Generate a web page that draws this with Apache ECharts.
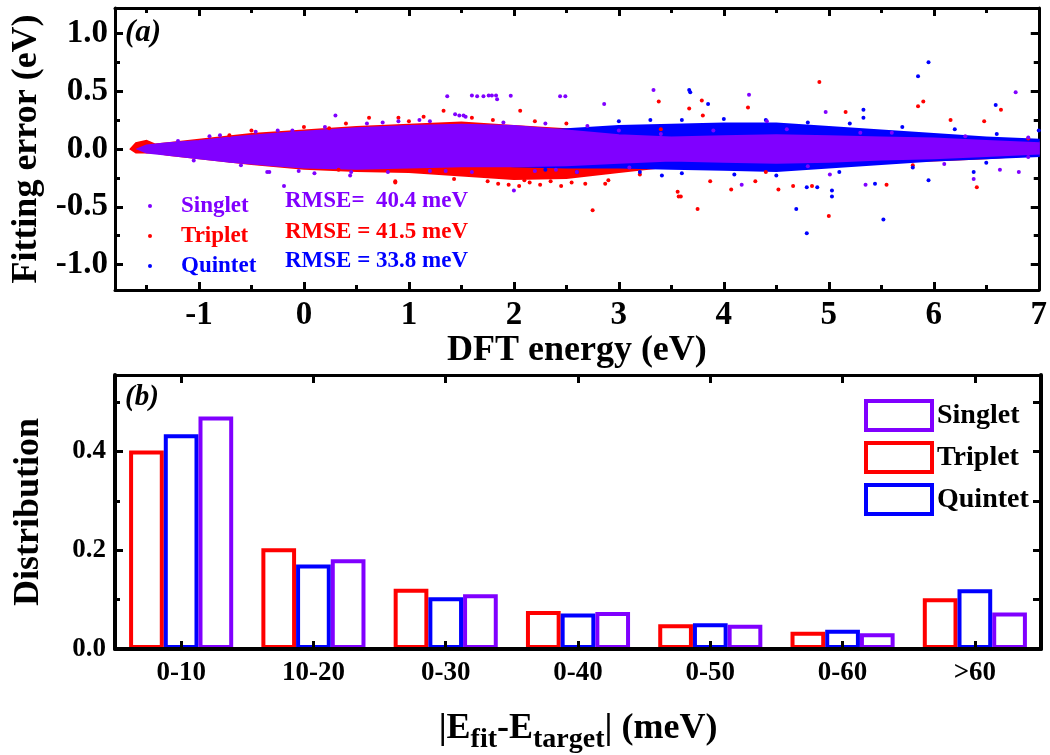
<!DOCTYPE html>
<html>
<head>
<meta charset="utf-8">
<script src="https://cdn.jsdelivr.net/npm/echarts@6/dist/echarts.min.js"></script>
<style>
  html, body { margin: 0; padding: 0; background: #ffffff; }
  #chart { width: 1050px; height: 755px; }
</style>
</head>
<body>
<div id="chart"></div>
<script>
// ---------- Panel (a): fitting error vs DFT energy ----------
// Dense cloud of each spin state, given as upper/lower envelopes (eV)
const tripletBandX = [-1.65, -1.6, -1.5, -1.42, -1.3, -1.0, -0.5, 0, 0.5, 1, 1.5, 2, 2.5, 3, 3.5, 4, 4.5, 5, 5.5, 6, 6.5, 7];
const tripletUpper = [0.0, 0.05, 0.07, 0.04, 0.05, 0.08, 0.13, 0.16, 0.19, 0.21, 0.23, 0.2, 0.17, 0.14, 0.12, 0.12, 0.12, 0.12, 0.11, 0.1, 0.08, 0.06];
const tripletLower = [0.0, -0.03, -0.03, -0.03, -0.05, -0.08, -0.13, -0.17, -0.19, -0.2, -0.23, -0.26, -0.25, -0.2, -0.15, -0.15, -0.14, -0.12, -0.11, -0.1, -0.08, -0.05];

const quintetBandX = [1.0, 1.5, 2, 2.5, 3, 3.5, 4, 4.5, 5, 5.5, 6, 6.5, 7];
const quintetUpper = [0.08, 0.12, 0.15, 0.17, 0.2, 0.21, 0.22, 0.22, 0.19, 0.16, 0.13, 0.1, 0.08];
const quintetLower = [-0.08, -0.12, -0.15, -0.16, -0.16, -0.17, -0.18, -0.19, -0.16, -0.13, -0.1, -0.08, -0.06];

const singletBandX = [-1.58, -1.5, -1.3, -1.0, -0.7, -0.3, 0, 0.5, 1, 1.5, 2, 2.5, 3, 3.5, 4, 4.5, 5, 5.5, 6, 6.5, 7];
const singletUpper = [0.0, 0.03, 0.05, 0.07, 0.10, 0.13, 0.15, 0.18, 0.2, 0.21, 0.2, 0.16, 0.12, 0.1, 0.11, 0.12, 0.11, 0.1, 0.09, 0.07, 0.05];
const singletLower = [0.0, -0.03, -0.05, -0.08, -0.11, -0.14, -0.16, -0.17, -0.16, -0.15, -0.15, -0.14, -0.12, -0.1, -0.11, -0.12, -0.11, -0.09, -0.08, -0.06, -0.04];

// Individual scattered points [DFT energy, error] (eV)
const singletPoints = [
  [1.365, 0.457], [1.60, 0.463], [1.65, 0.457], [1.71, 0.457], [1.76, 0.463], [1.79, 0.463], [1.83, 0.463], [1.84, 0.43],
  [1.97, 0.46], [2.44, 0.457], [2.49, 0.457], [2.86, 0.39], [3.33, 0.51], [0.30, 0.29], [1.44, 0.30], [1.48, 0.29],
  [1.52, 0.29], [1.54, 0.28], [2.0, -0.36], [0.44, -0.23], [6.78, 0.49], [4.24, 0.47], [4.97, 0.32], [4.41, 0.24],
  [5.35, -0.31], [4.17, -0.31], [6.81, -0.2], [6.63, -0.18], [6.38, -0.26], [5.01, -0.22], [-0.19, -0.32], [-0.35, -0.2],
  [-0.71, -0.10], [-0.11, 0.16], [-0.90, 0.11], [-0.46, 0.15], [-0.33, -0.20], [0.6, 0.22], [0.9, 0.24], [1.1, 0.25],
  [1.2, 0.24], [2.3, 0.22], [2.7, 0.2], [3.0, 0.16], [0.1, -0.21], [0.8, -0.2], [1.2, -0.19], [1.6, -0.2], [2.2, -0.19],
  [2.6, -0.2], [3.1, -0.16], [3.9, 0.16], [4.6, 0.17], [5.6, 0.14], [6.1, -0.13], [6.9, 0.1], [6.9, -0.07],
  [-1.2, 0.07], [-1.05, -0.1], [-0.8, 0.12], [-0.6, -0.14], [-0.25, 0.16], [-0.05, -0.19], [0.2, 0.19], [0.45, -0.2],
  [0.75, 0.23], [1.35, -0.19], [1.9, 0.23], [2.4, -0.18], [3.4, 0.13], [4.8, -0.15], [5.3, 0.14], [6.3, 0.11]
];
const tripletPoints = [
  [1.33, 0.33], [0.62, 0.27], [0.90, 0.27], [1.14, 0.28], [2.06, 0.33], [3.38, 0.41], [2.75, -0.53], [3.56, -0.37],
  [3.59, -0.41], [0.87, -0.28], [1.43, -0.26], [2.68, -0.30], [2.87, -0.30], [4.91, 0.58], [3.79, 0.42], [3.67, 0.35],
  [3.80, 0.29], [4.23, 0.36], [5.16, 0.32], [5.90, 0.41], [5.85, 0.37], [6.64, 0.34], [6.48, 0.24], [6.16, 0.25],
  [3.75, -0.52], [5.0, -0.58], [3.57, -0.41], [4.07, -0.35], [4.52, -0.35], [4.66, -0.32], [4.84, -0.32], [5.55, -0.31],
  [6.41, -0.33], [4.30, -0.28], [3.87, -0.28], [0.24, 0.18], [0.33, -0.18], [-0.71, 0.12], [0.87, -0.29],
  [1.85, -0.30], [1.95, -0.31], [2.05, -0.32], [2.15, -0.29], [2.25, -0.31], [2.35, -0.28], [2.45, -0.32], [2.55, -0.29],
  [1.75, -0.28], [2.9, -0.27], [2.1, -0.27], [-0.5, 0.16], [0.0, 0.19], [0.4, 0.22], [1.0, 0.24], [1.6, 0.27],
  [1.8, 0.25], [2.2, 0.24], [2.5, 0.22], [3.2, -0.22], [3.4, 0.17], [4.4, -0.2], [5.8, -0.14], [6.9, 0.09]
];
const quintetPoints = [
  [3.67, 0.51], [3.41, -0.23], [5.95, 0.75], [5.85, 0.63], [3.68, 0.49], [3.85, 0.39], [5.33, 0.34], [5.33, 0.27],
  [6.59, 0.38], [7.0, 0.16], [4.79, -0.73], [4.69, -0.52], [5.52, -0.61], [5.03, -0.41], [5.03, -0.36], [4.79, -0.33],
  [4.89, -0.33], [5.44, -0.30], [5.95, -0.27], [6.38, -0.2], [3.0, 0.24], [3.3, 0.25], [3.6, 0.25], [4.0, 0.26],
  [4.4, 0.25], [4.8, 0.23], [5.2, 0.22], [5.7, 0.19], [6.2, 0.17], [6.6, 0.13], [3.2, -0.2], [3.6, -0.21], [4.1, -0.22],
  [4.5, -0.23], [5.1, -0.2], [5.8, -0.16], [6.5, -0.12], [2.6, -0.2], [2.3, -0.18]
];

const rmseLabels = ['RMSE=  40.4 meV', 'RMSE = 41.5 meV', 'RMSE = 33.8 meV'];

// Axis ticks of panel (a)
const energyTicks = [-1, 0, 1, 2, 3, 4, 5, 6, 7];
const energyMinorTicks = [-1.5, -0.5, 0.5, 1.5, 2.5, 3.5, 4.5, 5.5, 6.5];
const errorTicks = [-1.0, -0.5, 0.0, 0.5, 1.0];
const errorMinorTicks = [-0.75, -0.25, 0.25, 0.75];

// ---------- Panel (b): distribution of |E_fit - E_target| ----------
const bins = ['0-10', '10-20', '0-30', '0-40', '0-50', '0-60', '>60'];
const tripletDist = [0.402, 0.204, 0.122, 0.077, 0.050, 0.035, 0.103];
const quintetDist = [0.435, 0.171, 0.105, 0.072, 0.052, 0.039, 0.121];
const singletDist = [0.471, 0.182, 0.111, 0.075, 0.049, 0.032, 0.074];
const distTicks = [0.0, 0.2, 0.4];
const distMinorTicks = [0.1, 0.3, 0.5];
const distRightTicks = [0.1, 0.2, 0.3, 0.4, 0.5];

const FONT = '"Liberation Serif", "Times New Roman", serif';
const PURPLE = '#8000FF';
const RED = '#FF0000';
const BLUE = '#0000FF';
const BLACK = '#000000';

const chart = echarts.init(document.getElementById('chart'), null, { renderer: 'canvas' });

function bandSeries(name, color, xs, upper, lower, z) {
  return {
    type: 'custom', name: name, xAxisIndex: 0, yAxisIndex: 0, z: z, silent: true,
    data: [[0, 0]],
    renderItem: function (params, api) {
      const pts = [];
      for (let i = 0; i < xs.length; i++) pts.push(api.coord([xs[i], upper[i]]));
      for (let i = xs.length - 1; i >= 0; i--) pts.push(api.coord([xs[i], lower[i]]));
      return { type: 'polygon', shape: { points: pts }, style: { fill: color, stroke: color, lineWidth: 2 } };
    }
  };
}

function dotSeries(name, color, pts, z) {
  return {
    type: 'scatter', name: name, xAxisIndex: 0, yAxisIndex: 0, z: z,
    symbol: 'circle', symbolSize: 4, data: pts,
    itemStyle: { color: color, opacity: 1 }
  };
}

function barSeries(name, color, values) {
  return {
    type: 'bar', name: name, xAxisIndex: 4, yAxisIndex: 4,
    barWidth: 34.7, barGap: '0%', data: values,
    itemStyle: { color: 'rgba(255,255,255,0)', borderColor: color, borderWidth: 4 }
  };
}

const lineStyle = { color: BLACK, width: 3 };
const labelFont = { fontFamily: FONT, fontWeight: 'bold', color: BLACK };

// Plain value axis; tick-only copies carry the minor ticks of each frame side
function valueAxis(extra) {
  return Object.assign({
    type: 'value', splitLine: { show: false }, axisLine: { show: false, onZero: false },
    axisLabel: { show: false }, axisTick: { show: false }
  }, extra);
}

const option = {
  animation: false,
  backgroundColor: '#ffffff',
  grid: [
    { left: 115, right: 9, top: 8, bottom: 465 },
    { left: 115, right: 9, top: 375, bottom: 99.5 }
  ],
  xAxis: [
    // panel (a)
    valueAxis({
      gridIndex: 0, position: 'bottom', min: -1.8, max: 7,
      axisLine: { show: true, onZero: false, lineStyle: lineStyle },
      axisTick: { show: true, inside: true, length: 8, lineStyle: { width: 3, color: BLACK }, customValues: energyTicks },
      axisLabel: Object.assign({ show: true, fontSize: 33, margin: 9, customValues: energyTicks }, labelFont),
      name: 'DFT energy (eV)', nameLocation: 'middle', nameGap: 33,
      nameTextStyle: Object.assign({ fontSize: 36 }, labelFont)
    }),
    valueAxis({
      gridIndex: 0, position: 'bottom', min: -1.8, max: 7,
      axisTick: { show: true, inside: true, length: 5, lineStyle: { width: 3, color: BLACK }, customValues: energyMinorTicks }
    }),
    valueAxis({
      gridIndex: 0, position: 'top', min: -1.8, max: 7,
      axisLine: { show: true, onZero: false, lineStyle: lineStyle },
      axisTick: { show: true, inside: true, length: 8, lineStyle: { width: 3, color: BLACK }, customValues: energyTicks }
    }),
    valueAxis({
      gridIndex: 0, position: 'top', min: -1.8, max: 7,
      axisTick: { show: true, inside: true, length: 5, lineStyle: { width: 3, color: BLACK }, customValues: energyMinorTicks }
    }),
    // panel (b)
    {
      type: 'category', gridIndex: 1, position: 'bottom', data: bins, z: 10,
      axisLine: { show: true, onZero: false, lineStyle: { color: BLACK, width: 4 } },
      axisTick: { show: true, inside: true, alignWithLabel: true, length: 8, lineStyle: { width: 3, color: BLACK } },
      axisLabel: Object.assign({ fontSize: 27, margin: 11 }, labelFont),
      splitLine: { show: false },
      name: '{b||E}{s|fit}{b|-E}{s|target}{b|| (meV)}', nameLocation: 'middle', nameGap: 55,
      nameTextStyle: {
        rich: {
          b: { fontFamily: FONT, fontWeight: 'bold', fontSize: 36, color: BLACK },
          s: { fontFamily: FONT, fontWeight: 'bold', fontSize: 28, color: BLACK, padding: [22, 0, 0, 0] }
        }
      }
    },
    {
      type: 'category', gridIndex: 1, position: 'top', data: bins, z: 10,
      axisLine: { show: true, onZero: false, lineStyle: lineStyle },
      axisTick: { show: true, inside: true, alignWithLabel: true, length: 8, lineStyle: { width: 3, color: BLACK } },
      axisLabel: { show: false }, splitLine: { show: false }
    }
  ],
  yAxis: [
    // panel (a)
    valueAxis({
      gridIndex: 0, position: 'left', min: -1.22, max: 1.22,
      axisLine: { show: true, onZero: false, lineStyle: lineStyle },
      axisTick: { show: true, inside: true, length: 8, lineStyle: { width: 3, color: BLACK }, customValues: errorTicks },
      axisLabel: Object.assign({ show: true, fontSize: 33, margin: 7, customValues: errorTicks,
        formatter: function (v) { return v.toFixed(1); } }, labelFont),
      name: 'Fitting error (eV)', nameLocation: 'middle', nameGap: 70,
      nameTextStyle: Object.assign({ fontSize: 36 }, labelFont)
    }),
    valueAxis({
      gridIndex: 0, position: 'left', min: -1.22, max: 1.22,
      axisTick: { show: true, inside: true, length: 5, lineStyle: { width: 3, color: BLACK }, customValues: errorMinorTicks }
    }),
    valueAxis({
      gridIndex: 0, position: 'right', min: -1.22, max: 1.22,
      axisLine: { show: true, onZero: false, lineStyle: lineStyle },
      axisTick: { show: true, inside: true, length: 8, lineStyle: { width: 3, color: BLACK }, customValues: errorTicks }
    }),
    valueAxis({
      gridIndex: 0, position: 'right', min: -1.22, max: 1.22,
      axisTick: { show: true, inside: true, length: 5, lineStyle: { width: 3, color: BLACK }, customValues: errorMinorTicks }
    }),
    // panel (b)
    valueAxis({
      gridIndex: 1, position: 'left', min: 0, max: 0.555,
      axisLine: { show: true, onZero: false, lineStyle: { color: BLACK, width: 4 } },
      axisTick: { show: true, inside: true, length: 8, lineStyle: { width: 3, color: BLACK }, customValues: distTicks },
      axisLabel: Object.assign({ show: true, fontSize: 27, margin: 9, customValues: distTicks,
        formatter: function (v) { return v.toFixed(1); } }, labelFont),
      name: 'Distribution', nameLocation: 'middle', nameGap: 68,
      nameTextStyle: Object.assign({ fontSize: 36 }, labelFont)
    }),
    valueAxis({
      gridIndex: 1, position: 'left', min: 0, max: 0.555,
      axisTick: { show: true, inside: true, length: 5, lineStyle: { width: 3, color: BLACK }, customValues: distMinorTicks }
    }),
    valueAxis({
      gridIndex: 1, position: 'right', min: 0, max: 0.555,
      axisLine: { show: true, onZero: false, lineStyle: { color: BLACK, width: 4 } },
      axisTick: { show: true, inside: true, length: 8, lineStyle: { width: 3, color: BLACK }, customValues: distRightTicks }
    })
  ],
  legend: [
    {
      left: 143, top: 189, orient: 'vertical', itemWidth: 4, itemHeight: 4, itemGap: 6,
      selectedMode: false, icon: 'circle',
      textStyle: { fontFamily: FONT, fontWeight: 'bold', fontSize: 23, lineHeight: 24, padding: [0, 0, 0, 24] },
      data: [
        { name: 'Singlet', icon: 'circle', itemStyle: { color: PURPLE, borderWidth: 0 }, textStyle: { color: PURPLE } },
        { name: 'Triplet', icon: 'circle', itemStyle: { color: RED, borderWidth: 0 }, textStyle: { color: RED } },
        { name: 'Quintet', icon: 'circle', itemStyle: { color: BLUE, borderWidth: 0 }, textStyle: { color: BLUE } }
      ]
    },
    {
      left: 859, top: 394, orient: 'vertical', itemWidth: 66, itemHeight: 29, itemGap: 9,
      selectedMode: false, icon: 'rect',
      textStyle: { fontFamily: FONT, fontWeight: 'bold', fontSize: 28, color: BLACK, padding: [0, 0, 0, 0] },
      data: [
        { name: 'Singlet', icon: 'rect', itemStyle: { color: 'rgba(255,255,255,0)', borderColor: PURPLE, borderWidth: 4 } },
        { name: 'Triplet', icon: 'rect', itemStyle: { color: 'rgba(255,255,255,0)', borderColor: RED, borderWidth: 4 } },
        { name: 'Quintet', icon: 'rect', itemStyle: { color: 'rgba(255,255,255,0)', borderColor: BLUE, borderWidth: 4 } }
      ]
    }
  ],
  graphic: [
    { type: 'text', left: 125, top: 17, silent: true,
      style: { text: '(a)', font: 'italic bold 31px ' + FONT, fill: BLACK } },
    { type: 'text', left: 125, top: 383, silent: true,
      style: { text: '(b)', font: 'italic bold 29px ' + FONT, fill: BLACK } },
    { type: 'text', left: 285, top: 190, silent: true,
      style: { text: rmseLabels[0], font: 'bold 23px ' + FONT, fill: PURPLE } },
    { type: 'text', left: 285, top: 221, silent: true,
      style: { text: rmseLabels[1], font: 'bold 23px ' + FONT, fill: RED } },
    { type: 'text', left: 285, top: 250, silent: true,
      style: { text: rmseLabels[2], font: 'bold 23px ' + FONT, fill: BLUE } }
  ],
  series: [
    bandSeries('Triplet', RED, tripletBandX, tripletUpper, tripletLower, 2),
    bandSeries('Quintet', BLUE, quintetBandX, quintetUpper, quintetLower, 3),
    bandSeries('Singlet', PURPLE, singletBandX, singletUpper, singletLower, 4),
    dotSeries('Triplet', RED, tripletPoints, 5),
    dotSeries('Quintet', BLUE, quintetPoints, 6),
    dotSeries('Singlet', PURPLE, singletPoints, 7),
    barSeries('Triplet', RED, tripletDist),
    barSeries('Quintet', BLUE, quintetDist),
    barSeries('Singlet', PURPLE, singletDist)
  ]
};

chart.setOption(option);
</script>
</body>
</html>
